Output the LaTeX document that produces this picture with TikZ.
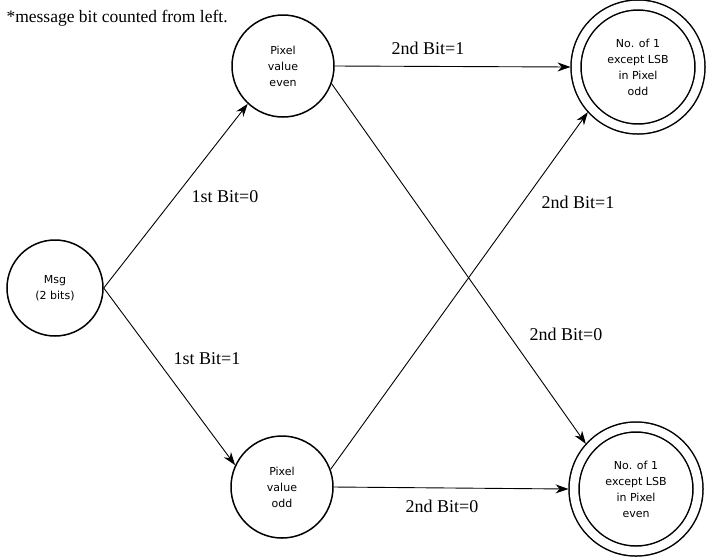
\documentclass[tikz,border=0pt]{standalone}
\usepackage{fontspec}
\setmainfont{Liberation Serif}
\newfontfamily\statefont{DejaVu Sans}
\usetikzlibrary{arrows.meta,positioning}

\tikzset{
  state/.style={draw, circle, line width=1.5pt, minimum size=102pt, inner sep=0pt,
    align=center, font=\statefont\fontsize{11}{16}\selectfont},
  accept/.style={state, minimum size=124pt, double, double distance=8.5pt, outer sep=5.5pt},
  trans/.style={line width=0.9pt, -{Stealth[length=13pt,width=9pt]}},
  tlabel/.style={font=\fontsize{18}{20}\selectfont}
}

\begin{document}
\begin{tikzpicture}[x=1pt,y=-1pt]
  \useasboundingbox (0,0) rectangle (709,558);

  \node[anchor=west, font=\fontsize{17.5}{20}\selectfont] (note) at (3,18) {*message bit counted from left.};

  % states
  \node[state, minimum size=96pt] (msg) at (55,288) {Msg\\(2 bits)};
  \node[state] (even) at (283,66) {Pixel\\value\\even};
  \node[state] (odd) at (282,487) {Pixel\\value\\odd};
  \node[accept] (oddout) at (638,67) {No. of 1\\except LSB\\in Pixel\\odd};
  \node[accept] (evenout) at (636,489) {No. of 1\\except LSB\\in Pixel\\even};

  % transitions
  \draw[trans] (msg.east) -- (even.227);
  \draw[trans] (msg.east) -- (odd.155);
  \draw[trans] (even.east) -- (oddout.west);
  \draw[trans] (even.-20) -- (evenout.138);
  \draw[trans] (odd.20) -- (oddout.222);
  \draw[trans] (odd.east) -- (evenout.west);

  % labels
  \node[tlabel] (l1) at (225,197) {1st Bit=0};
  \node[tlabel] (l2) at (207,359) {1st Bit=1};
  \node[tlabel] (l3) at (428,48) {2nd Bit=1};
  \node[tlabel] (l4) at (578,202) {2nd Bit=1};
  \node[tlabel] (l5) at (566,334) {2nd Bit=0};
  \node[tlabel] (l6) at (442,506) {2nd Bit=0};
\end{tikzpicture}
\end{document}
